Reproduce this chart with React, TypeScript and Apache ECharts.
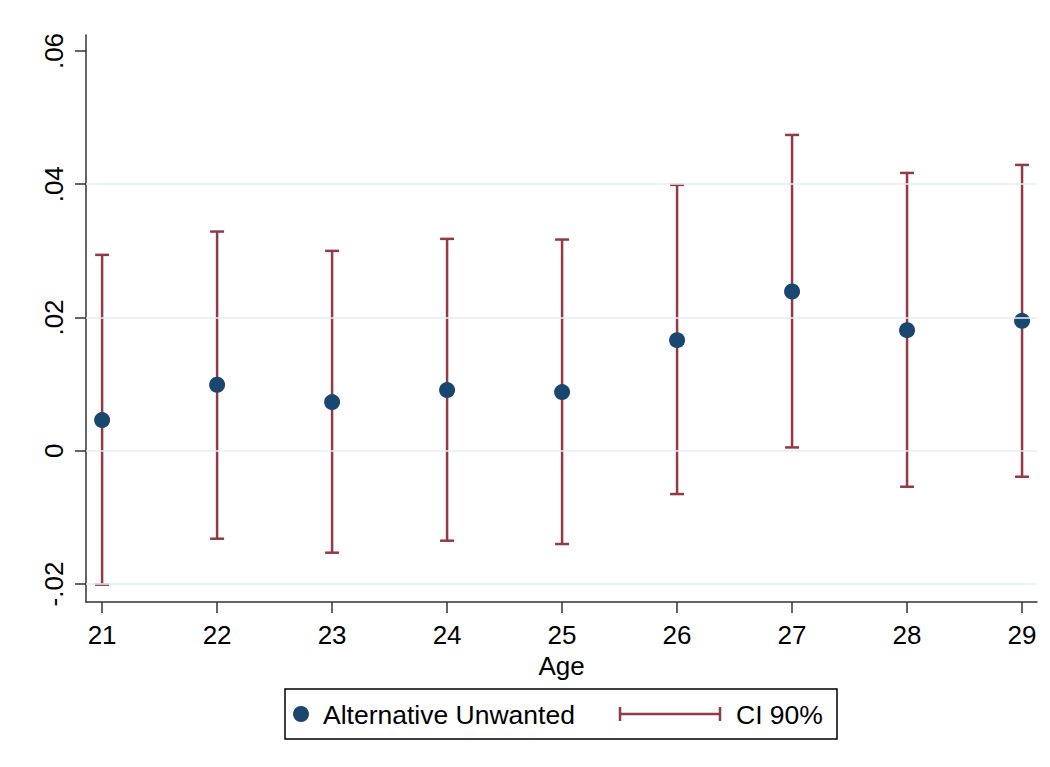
import React, { useEffect, useRef } from "react";
import * as echarts from "echarts";

const ages = [21, 22, 23, 24, 25, 26, 27, 28, 29];
const estimates = [0.0046, 0.0099, 0.0073, 0.0091, 0.0088, 0.0166, 0.0239, 0.0181, 0.0195];
const ciLower = [-0.0201, -0.0132, -0.0153, -0.0135, -0.014, -0.0065, 0.0005, -0.0054, -0.0039];
const ciUpper = [0.0294, 0.0329, 0.03, 0.0318, 0.0317, 0.0399, 0.0474, 0.0417, 0.0429];
const yTicks = [-0.02, 0, 0.02, 0.04, 0.06];
const gridValues = [-0.02, 0, 0.02, 0.04];
const seriesName = "Alternative Unwanted";
const ciName = "CI 90%";
const xTitle = "Age";

const NAVY = "#1a476f";
const MAROON = "#933a46";
const FONT = "'Liberation Sans', Arial, sans-serif";

function fmtY(v: number): string {
  if (Math.abs(v) < 1e-9) return "0";
  const s = (Math.round(v * 100) / 100).toFixed(2);
  return s.replace("0.", ".");
}

export default function App() {
  const ref = useRef<HTMLDivElement>(null);
  useEffect(() => {
    if (!ref.current) return;
    const chart = echarts.init(ref.current, undefined, { renderer: "svg" });
    const option: any = {
      animation: false,
      backgroundColor: "#ffffff",
      grid: { left: 86, right: 13, top: 35, bottom: 165, containLabel: false },
      xAxis: {
        type: "value",
        min: 20.86,
        max: 29.13,
        axisLine: { show: true, onZero: false, lineStyle: { color: "#333", width: 1.5 } },
        axisTick: { show: true, customValues: ages, length: 11, lineStyle: { color: "#333", width: 1.5 } },
        axisLabel: {
          customValues: ages,
          fontSize: 26,
          color: "#000",
          fontFamily: FONT,
          margin: 20,
        },
        splitLine: { show: false },
        name: xTitle,
        nameLocation: "middle",
        nameGap: 49,
        nameTextStyle: { fontSize: 26, color: "#000", fontFamily: FONT },
      },
      yAxis: {
        type: "value",
        min: -0.0227,
        max: 0.0624,
        axisLine: { show: true, onZero: false, lineStyle: { color: "#333", width: 1.5 } },
        axisTick: { show: true, customValues: yTicks, length: 11, lineStyle: { color: "#333", width: 1.5 } },
        axisLabel: {
          customValues: yTicks,
          rotate: 90,
          fontSize: 26,
          color: "#000",
          fontFamily: FONT,
          margin: 19,
          formatter: (v: number) => fmtY(v),
        },
        splitLine: { show: false },
      },
      series: [
        {
          type: "line",
          data: [],
          silent: true,
          z: 1,
          markLine: {
            silent: true,
            symbol: "none",
            label: { show: false },
            lineStyle: { color: "#e4eef1", type: "solid", width: 1.5 },
            data: gridValues.map((v) => ({ yAxis: v })),
          },
        },
        {
          type: "custom",
          name: ciName,
          z: 2,
          data: ages.map((a, i) => [a, ciLower[i], ciUpper[i]]),
          encode: { x: 0, y: [1, 2] },
          renderItem: (params: any, api: any) => {
            const x = api.value(0);
            const top = api.coord([x, api.value(2)]);
            const bot = api.coord([x, api.value(1)]);
            const half = 7;
            const style = { stroke: MAROON, lineWidth: 2.5 };
            return {
              type: "group",
              children: [
                { type: "line", shape: { x1: top[0], y1: top[1], x2: bot[0], y2: bot[1] }, style },
                { type: "line", shape: { x1: top[0] - half, y1: top[1], x2: top[0] + half, y2: top[1] }, style },
                { type: "line", shape: { x1: bot[0] - half, y1: bot[1], x2: bot[0] + half, y2: bot[1] }, style },
              ],
            };
          },
        },
        {
          type: "scatter",
          name: seriesName,
          z: 3,
          symbol: "circle",
          symbolSize: 16,
          itemStyle: { color: NAVY, opacity: 1 },
          data: ages.map((a, i) => [a, estimates[i]]),
        },
      ],
      graphic: [
        {
          type: "rect",
          shape: { x: 285, y: 689, width: 552, height: 50 },
          style: { fill: "#fff", stroke: "#000", lineWidth: 1.5 },
        },
        { type: "circle", shape: { cx: 301, cy: 714, r: 8 }, style: { fill: NAVY } },
        {
          type: "text",
          x: 323,
          y: 715,
          style: { text: seriesName, fontSize: 26.5, fontFamily: FONT, fill: "#000", verticalAlign: "middle", align: "left" },
        },
        { type: "line", shape: { x1: 620, y1: 714, x2: 720, y2: 714 }, style: { stroke: MAROON, lineWidth: 2.5 } },
        { type: "line", shape: { x1: 620, y1: 707, x2: 620, y2: 721 }, style: { stroke: MAROON, lineWidth: 2.5 } },
        { type: "line", shape: { x1: 720, y1: 707, x2: 720, y2: 721 }, style: { stroke: MAROON, lineWidth: 2.5 } },
        {
          type: "text",
          x: 736,
          y: 715,
          style: { text: ciName, fontSize: 26.5, fontFamily: FONT, fill: "#000", verticalAlign: "middle", align: "left" },
        },
      ],
    };
    chart.setOption(option);
    return () => chart.dispose();
  }, []);
  return (
    <div
      ref={ref}
      style={{ position: "fixed", left: 0, top: 0, width: 1050, height: 767, background: "#fff" }}
    />
  );
}
